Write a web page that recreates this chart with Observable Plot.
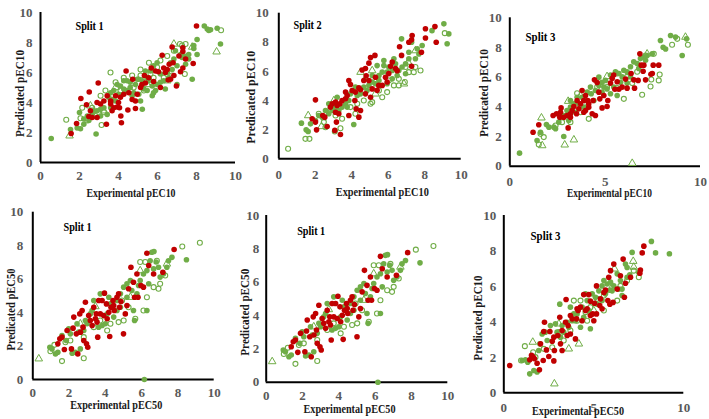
<!DOCTYPE html>
<html><head><meta charset="utf-8">
<script src="https://cdn.jsdelivr.net/npm/d3@7"></script>
<script src="https://cdn.jsdelivr.net/npm/@observablehq/plot@0.6"></script>
<style>
body{margin:0;background:#fff}
#fig{position:relative;width:709px;height:419px;overflow:hidden;background:#fff}
#fig svg{position:absolute;overflow:visible}
</style>
</head><body><div id="fig"></div>
<script>
// ---- tick values ----
const ticksFine = [0, 2, 4, 6, 8, 10];
const ticksCoarse = [0, 5, 10];

// ---- text ----
const titles = ["Split 1", "Split 2", "Split 3", "Split 1", "Split 1", "Split 3"];
const xLabels = ["Experimental pEC10", "Experimental pEC10", "Experimental pEC10", "Experimental pEC50", "Experimental pEC50", "Experimental pEC50"];
const yLabels = ["Predicated pEC10", "Predicated pEC10", "Predicated pEC10", "Predicated pEC50", "Predicated pEC50", "Predicated pEC10"];

// ---- panel 1 (pEC10, split 1) ----
const p1Red = [[8.0,9.1],[1.57,1.93],[1.85,2.6],[2.07,4.27],[2.5,4.7],[2.96,5.3],[2.36,3.85],[2.56,3.45],[2.48,3.07],[2.65,3.0],[2.9,3.0],[2.9,4.0],[3.08,3.9],[3.25,4.1],[3.42,4.45],[3.38,2.55],[3.6,4.1],[3.67,3.45],[3.85,4.45],[3.93,3.7],[3.76,3.65],[4.0,4.0],[4.12,3.1],[4.15,2.65],[4.1,4.35],[4.27,4.55],[4.39,6.1],[4.48,3.5],[4.53,4.65],[4.7,4.2],[4.73,5.55],[4.87,3.6],[4.96,4.55],[5.13,5.0],[5.2,5.2],[5.33,5.8],[5.38,5.3],[5.55,5.65],[5.8,5.4],[5.9,6.1],[6.05,6.05],[6.15,5.0],[6.24,7.15],[6.32,6.3],[6.4,6.0],[6.5,6.2],[6.6,6.55],[6.67,5.55],[6.75,7.7],[6.8,6.65],[6.84,5.8],[6.97,5.1],[7.1,7.1],[7.18,6.05],[7.3,7.65],[7.3,7.4],[7.3,6.3],[7.44,6.9],[7.83,6.6],[6.55,5.5],[5.68,6.3],[4.87,4.1],[3.6,3.9],[4.05,3.65]];
const p1Green = [[0.55,1.6],[1.54,2.2],[2.05,2.25],[2.22,2.55],[2.0,3.33],[2.85,1.9],[2.4,3.1],[2.73,3.45],[3.08,3.1],[3.25,3.65],[3.42,3.2],[3.6,4.65],[3.76,4.8],[3.93,5.2],[4.1,5.1],[4.27,4.9],[4.44,5.45],[4.6,5.0],[4.78,4.65],[4.87,5.2],[5.04,5.55],[5.13,4.1],[5.3,4.9],[5.47,5.65],[5.73,4.45],[5.8,4.65],[5.9,4.8],[5.98,5.2],[6.15,5.9],[6.32,5.45],[6.4,4.9],[6.58,5.65],[6.67,6.65],[6.84,6.9],[6.92,7.45],[7.0,5.2],[7.18,7.2],[7.35,7.1],[7.52,7.1],[7.6,7.2],[7.78,5.55],[7.86,7.8],[7.86,7.6],[8.03,8.2],[8.03,7.2],[8.4,9.1],[8.55,8.9],[8.63,8.8],[8.72,8.85],[9.06,8.95],[9.23,7.9],[5.64,6.1],[5.8,6.45],[5.98,6.65],[5.55,5.45],[5.38,6.1],[5.22,5.45],[4.96,5.55],[4.6,5.35],[4.27,5.45],[4.0,4.55],[3.85,4.1],[3.6,3.65],[3.08,3.55],[2.9,3.45],[2.65,3.2],[2.48,2.8],[2.22,2.9],[1.88,2.3],[3.5,4.35],[3.67,4.2],[4.1,4.45],[4.44,4.8],[4.7,4.45],[5.04,4.55],[5.22,3.55],[5.47,4.8],[5.73,5.1],[6.15,5.35],[6.5,6.0],[6.75,6.2],[7.0,6.45],[7.26,7.0],[7.44,6.55],[7.6,6.9]];
const p1Open = [[1.32,2.85],[3.13,2.5],[3.59,6.0],[5.13,6.2],[5.56,6.65],[7.15,7.9],[7.4,5.9],[9.26,8.82],[2.14,3.65],[2.65,3.65],[3.08,4.45],[3.33,4.8],[3.85,5.35],[4.27,5.65],[4.7,5.8],[5.13,5.8],[5.64,5.9],[5.98,6.35],[6.15,6.8],[6.5,7.1],[6.84,7.45],[7.26,7.8],[7.44,7.9],[2.4,2.8],[2.82,3.1],[3.25,3.35],[3.6,4.1],[4.1,4.8],[4.78,5.0],[5.3,4.8],[5.8,5.65],[6.32,5.65],[6.75,5.8],[2.05,2.95]];
const p1Tri = [[1.49,1.78],[9.03,7.38],[6.84,7.9],[6.5,5.45],[5.47,5.2],[3.85,5.0],[3.25,3.45],[2.56,3.78],[7.78,7.7]];

// ---- panel 2 (pEC10, split 2) ----
const p2Red = [[8.56,9.08],[8.04,8.93],[8.63,8.0],[7.82,7.32],[8.04,8.3],[7.31,8.47],[7.28,8.17],[7.13,8.0],[6.62,7.7],[7.28,6.35],[6.73,7.1],[6.22,6.65],[6.4,6.2],[6.49,6.05],[6.13,6.35],[6.03,5.85],[5.85,5.6],[5.94,5.27],[5.67,5.04],[5.27,7.1],[5.03,6.95],[4.94,6.57],[4.75,6.2],[4.57,6.1],[4.79,5.7],[4.66,5.38],[4.94,5.38],[5.3,5.6],[5.48,5.04],[5.39,4.7],[5.12,4.8],[5.03,4.23],[4.75,4.46],[4.48,4.74],[4.39,4.87],[4.2,4.58],[4.02,4.69],[3.84,5.38],[3.93,5.1],[3.75,4.35],[3.66,4.12],[3.47,4.0],[3.35,3.78],[3.2,3.66],[3.11,3.89],[2.93,3.78],[2.83,3.55],[3.11,3.2],[3.29,3.09],[3.16,2.52],[3.07,1.95],[3.38,1.67],[3.84,2.97],[4.39,2.86],[4.24,3.43],[4.48,3.32],[2.52,2.86],[2.41,2.97],[2.01,4.05],[1.83,2.75],[2.01,2.52],[2.07,1.99],[2.65,2.22],[4.17,4.0],[3.66,4.58]];
const p2Green = [[1.24,2.45],[1.5,1.99],[1.61,1.88],[4.11,2.36],[6.73,8.24],[7.28,8.0],[7.86,7.78],[8.4,8.8],[9.05,9.27],[9.32,8.58],[9.23,7.9],[7.68,7.2],[7.49,6.87],[7.13,6.87],[6.95,6.52],[6.76,6.3],[6.58,6.06],[6.4,6.52],[6.22,6.06],[6.03,6.3],[5.94,5.95],[5.76,6.4],[5.67,5.95],[5.49,5.72],[5.49,5.38],[5.3,5.15],[5.12,5.27],[4.94,5.04],[4.84,4.69],[4.66,4.92],[4.48,4.46],[4.3,4.35],[4.11,4.69],[3.93,4.46],[3.84,4.0],[3.66,3.78],[3.47,3.55],[3.29,3.32],[3.11,3.55],[2.93,3.32],[2.74,3.09],[2.56,3.32],[2.38,2.86],[2.19,2.97],[2.01,2.63],[1.74,2.4],[4.2,4.92],[5.94,5.15],[6.22,5.49],[6.49,5.72],[7.13,7.32],[7.59,7.55],[6.31,6.87],[5.76,6.75],[5.12,5.72],[4.75,5.49],[3.75,3.55],[3.2,4.23],[2.74,3.78],[6.95,5.84],[5.39,6.4]];
const p2Open = [[0.51,0.69],[1.46,1.37],[1.68,1.37],[3.38,2.1],[3.07,1.88],[7.77,6.06],[7.4,5.95],[7.13,5.95],[6.91,5.27],[6.58,5.04],[9.1,8.63],[5.67,4.23],[5.94,4.58],[6.03,5.38],[6.58,5.49],[5.03,3.78],[5.12,3.89],[4.66,4.0],[4.3,3.78],[3.93,3.55],[3.47,2.75],[2.83,3.43],[2.47,2.52],[2.19,3.09],[5.49,4.69],[6.31,5.04],[6.95,6.3],[7.49,6.3],[4.2,3.09],[3.11,2.97],[2.56,2.17]];
const p2Tri = [[1.61,2.97],[4.48,5.95],[5.12,6.06],[7.49,7.43],[7.09,6.64],[6.86,5.15],[3.02,4.0],[2.34,2.22],[5.3,4.46]];

// ---- panel 3 (pEC10, split 3) ----
const p3Red = [[1.22,2.29],[1.52,2.79],[2.27,3.42],[2.45,3.53],[2.69,3.93],[2.62,3.3],[2.83,3.3],[3.0,3.42],[3.06,2.58],[3.18,3.3],[3.27,3.75],[3.36,4.02],[3.5,3.53],[3.62,3.87],[3.71,4.2],[3.79,5.1],[3.97,4.76],[3.88,4.43],[3.88,3.64],[4.09,4.43],[4.14,3.98],[4.32,3.53],[4.44,5.82],[4.37,4.43],[4.49,3.42],[4.58,5.64],[4.67,4.99],[4.84,3.93],[4.93,4.76],[5.1,4.02],[5.14,4.43],[5.28,5.6],[5.37,5.93],[5.51,5.19],[5.72,5.19],[5.89,5.33],[6.07,5.87],[6.15,5.26],[6.36,6.25],[6.5,5.82],[6.54,5.26],[6.73,5.78],[6.82,7.57],[6.89,6.81],[6.99,6.4],[7.03,6.81],[7.12,5.82],[7.47,6.25],[7.52,6.81],[7.81,6.81],[7.4,6.2],[4.14,4.2],[3.53,4.43],[2.66,3.64],[3.18,3.53],[3.97,3.75],[4.72,4.54],[5.45,6.14],[5.63,5.69]];
const p3Green = [[0.51,0.88],[2.83,2.0],[1.43,1.73],[1.61,2.29],[1.92,2.81],[2.05,2.63],[2.31,2.63],[2.57,2.97],[2.83,3.42],[3.0,3.75],[3.18,3.98],[3.36,4.2],[3.53,4.65],[3.79,4.65],[3.97,4.43],[4.06,4.99],[4.27,4.88],[4.49,5.1],[4.67,5.44],[4.84,5.66],[5.02,5.78],[5.1,5.21],[5.28,6.14],[5.54,6.36],[5.72,6.25],[5.89,6.02],[5.98,6.47],[6.15,6.36],[6.33,6.7],[6.5,7.03],[6.68,6.92],[6.85,7.25],[7.03,7.35],[7.2,7.46],[7.47,7.57],[7.9,8.47],[8.04,8.02],[8.17,7.9],[8.43,8.81],[8.69,8.7],[9.27,8.58],[9.04,7.46],[5.63,4.76],[5.28,4.88],[6.15,5.6],[6.33,6.02],[4.84,4.99],[4.41,4.43],[3.88,3.98],[3.44,3.64],[3.09,3.08],[2.4,2.52],[3.62,4.2],[3.18,4.43],[4.93,5.33],[5.81,5.66],[6.76,6.58],[7.12,7.14],[4.67,6.0],[5.45,5.33],[4.23,5.33]];
const p3Open = [[1.52,1.46],[1.78,1.96],[1.61,2.18],[4.14,3.19],[3.53,4.92],[5.98,4.54],[6.94,4.81],[7.38,5.37],[7.42,5.84],[7.81,5.78],[7.86,6.18],[8.51,8.18],[8.78,8.58],[9.34,8.18],[5.63,6.25],[6.15,6.02],[6.68,6.36],[7.12,7.46],[7.55,7.57],[5.1,5.33],[4.58,5.33],[4.06,3.98],[3.71,3.64],[3.18,2.97],[2.74,2.97],[2.4,2.74],[5.63,5.26],[6.42,5.6]];
const p3Tri = [[1.66,3.26],[1.7,1.39],[2.88,1.44],[3.36,1.78],[3.06,4.38],[6.42,0.2],[9.21,8.7],[7.2,7.57],[5.1,6.05],[3.71,4.76]];

// ---- panels 4 and 5 (pEC50, split 1; the two panels show the same data) ----
const p4Red = [[1.38,2.13],[1.49,2.43],[1.61,2.53],[1.74,1.79],[1.89,2.93],[2.13,1.83],[2.22,3.07],[2.26,3.73],[2.4,2.73],[2.48,1.53],[2.59,3.92],[2.72,4.12],[2.77,3.13],[2.81,2.33],[2.9,4.62],[2.96,2.13],[3.03,1.93],[3.08,3.82],[3.17,3.53],[3.27,3.23],[3.36,4.32],[3.45,3.63],[3.54,3.43],[3.58,2.53],[3.63,4.72],[3.72,3.92],[3.82,4.72],[3.91,3.82],[3.95,5.16],[4.06,4.52],[4.1,3.63],[4.19,4.02],[4.24,2.57],[4.31,4.32],[4.42,4.72],[4.49,4.12],[4.64,4.92],[4.73,5.12],[4.86,4.66],[5.0,2.73],[5.1,3.92],[5.19,4.42],[5.28,5.42],[5.41,6.71],[5.55,5.81],[5.61,4.92],[5.74,6.31],[5.8,4.92],[5.96,5.62],[6.1,5.52],[6.29,7.55],[6.39,6.81],[6.66,6.31],[7.17,6.41],[7.79,7.77],[4.78,4.32],[4.46,4.42],[3.5,3.92],[2.63,2.83]];
const p4Green = [[0.94,1.93],[1.06,1.83],[1.25,1.53],[1.38,1.63],[1.85,2.33],[2.07,2.73],[2.17,1.57],[2.35,1.63],[2.62,1.83],[2.53,2.83],[2.81,2.93],[2.99,3.33],[3.17,3.92],[3.36,4.72],[3.63,3.13],[3.82,3.23],[4.0,3.33],[4.1,3.92],[4.28,4.52],[4.46,3.73],[4.64,4.72],[4.83,5.12],[5.01,5.52],[5.19,5.72],[5.38,5.92],[5.55,4.12],[5.61,3.53],[5.74,5.12],[5.92,5.92],[6.1,6.31],[6.29,6.51],[6.39,5.72],[6.29,4.12],[6.56,7.61],[6.68,7.65],[6.8,7.02],[6.93,6.71],[7.02,6.12],[7.2,6.31],[7.39,6.71],[7.48,7.1],[7.67,7.3],[8.47,7.16],[6.15,0.0],[3.72,5.12],[4.64,4.12],[2.9,3.53],[2.44,3.33],[1.98,3.03],[1.61,2.63],[4.83,4.32],[5.19,4.92],[5.46,5.32],[5.83,5.62],[6.66,6.61],[6.47,7.1],[4.19,4.92],[3.27,4.12]];
const p4Open = [[0.97,1.69],[1.19,2.07],[1.61,1.1],[2.81,1.27],[8.24,7.95],[9.21,8.17],[5.92,7.02],[6.2,7.02],[6.93,5.42],[6.84,7.1],[6.1,4.12],[5.65,3.63],[5.01,3.53],[4.73,3.43],[4.1,2.93],[2.81,2.53],[2.07,2.33],[1.8,2.23],[3.36,3.13],[4.28,3.33],[5.28,4.32],[6.29,4.92],[6.66,5.52],[7.3,6.22],[7.02,5.72],[3.72,3.53],[4.92,4.72]];
const p4Tri = [[0.33,1.24],[5.92,6.51],[3.45,4.36],[2.62,3.33],[5.38,4.92],[7.39,6.91]];

// ---- panel 6 (pEC50, split 3) ----
const p6Red = [[0.33,1.54],[1.44,1.86],[1.54,2.11],[1.63,2.01],[1.7,1.92],[1.85,1.67],[1.98,1.3],[2.04,2.76],[2.19,1.82],[2.26,3.98],[2.22,3.46],[2.37,2.42],[2.56,3.46],[2.5,2.05],[2.69,2.91],[2.78,1.8],[2.81,2.39],[3.0,3.23],[3.11,4.26],[3.15,2.76],[3.24,3.51],[3.24,2.39],[3.43,3.98],[3.46,5.26],[3.52,3.23],[3.57,3.79],[3.7,4.36],[3.8,4.17],[3.98,3.04],[4.04,4.17],[4.07,4.74],[4.13,4.64],[4.26,4.83],[4.35,4.06],[4.44,5.54],[4.54,4.64],[4.63,4.74],[4.72,5.54],[4.81,5.17],[4.81,4.36],[4.94,4.45],[5.0,4.06],[5.04,5.05],[5.15,6.03],[5.15,4.45],[5.37,5.3],[5.46,4.74],[5.56,5.66],[5.65,5.79],[5.78,5.2],[5.83,6.52],[5.89,5.0],[5.93,6.89],[6.07,5.1],[6.11,7.26],[6.3,5.85],[6.48,6.6],[6.63,7.54],[6.7,5.39],[6.76,6.18],[7.59,6.93],[7.69,7.89],[7.78,8.27],[7.56,6.74],[7.04,6.52],[2.78,3.14],[3.7,3.32],[5.33,4.92]];
const p6Green = [[1.44,1.07],[1.02,1.82],[1.2,1.86],[1.33,1.73],[1.67,1.26],[1.85,1.17],[1.94,2.39],[2.0,2.76],[2.59,3.79],[2.41,2.95],[2.87,3.89],[3.11,5.0],[3.33,3.42],[3.61,3.7],[3.8,4.06],[4.07,4.45],[4.26,3.7],[4.44,4.26],[4.63,5.2],[4.81,3.61],[4.91,5.58],[5.09,5.39],[5.28,5.75],[5.46,6.03],[5.56,6.33],[5.74,6.14],[5.93,6.24],[6.11,6.03],[6.3,6.71],[6.48,6.33],[6.57,5.49],[6.76,7.26],[6.85,7.07],[7.0,6.65],[7.13,7.92],[7.5,6.78],[8.2,8.54],[8.43,7.89],[9.2,7.84],[3.15,3.14],[3.52,3.98],[3.89,4.45],[4.35,4.83],[4.54,5.58],[5.19,5.0],[5.65,5.58],[6.02,5.75],[6.39,5.85],[2.13,3.32],[2.31,3.42],[2.96,3.42],[3.24,3.79],[3.98,4.06],[4.72,4.64],[5.46,5.2],[5.89,5.79],[6.85,6.52],[6.57,5.85],[3.7,4.83]];
const p6Open = [[0.96,1.82],[1.17,2.63],[1.63,2.29],[1.76,2.01],[2.22,2.48],[2.69,2.57],[3.33,2.95],[3.7,3.51],[4.07,4.06],[4.54,4.55],[4.81,4.83],[5.19,5.3],[5.56,5.49],[6.02,5.94],[6.48,6.03],[6.85,6.33],[7.5,6.52],[4.26,5.2],[4.63,4.06],[3.89,5.2],[3.06,3.42],[5.56,4.64],[6.3,5.2],[7.22,6.89]];
const p6Tri = [[1.61,2.86],[2.81,0.51],[3.61,2.48],[4.17,2.76],[7.19,7.42],[7.22,7.09],[6.15,6.99],[3.06,3.89],[5.0,4.64]];

// ---- layout (pixel boxes of each sub-chart) ----
const layout = [
  {L:0,   T:0,   W:245, H:200, x0:40,    x10:235,   yt:12,    yb:162,   xPad:8,  yPad:8,   xl:[130.5,192.7,89], yl:[19,93,87],     ti:[75,25,28]},
  {L:235, T:0,   W:240, H:200, x0:278.3, x10:460.7, yt:12.7,  yb:158.3, xPad:11, yPad:10,  xl:[381.8,191.7,93], yl:[250,96.7,93], ti:[293,24,28]},
  {L:470, T:0,   W:239, H:200, x0:509.3, x10:700,   yt:17.3,  yb:165.7, xPad:11, yPad:8,   xl:[609,192.7,85], yl:[483.3,92.5,88], ti:[525,36,30]},
  {L:0,   T:200, W:235, H:219, x0:32.3,  x10:213.7, yt:211.7, yb:379,   xPad:8.5, yPad:9.5, xl:[115.8,404,92], yl:[10,309,82],   ti:[63,226.7,28]},
  {L:235, T:200, W:235, H:219, x0:265.7, x10:447.3, yt:215,   yb:381.7, xPad:8.5, yPad:7,  xl:[349,408.5,92], yl:[244.3,311.7,87], ti:[296.7,230,28]},
  {L:470, T:200, W:239, H:219, x0:503.3, x10:683.3, yt:215,   yb:392.3, xPad:10, yPad:7.5, xl:[577.5,410.7,92], yl:[477.3,317.5,85], ti:[530,235,30]}
];

const series = [
  [p1Red, p1Green, p1Open, p1Tri],
  [p2Red, p2Green, p2Open, p2Tri],
  [p3Red, p3Green, p3Open, p3Tri],
  [p4Red, p4Green, p4Open, p4Tri],
  [p4Red, p4Green, p4Open, p4Tri],
  [p6Red, p6Green, p6Open, p6Tri]
];
const xTickSets = [ticksFine, ticksFine, ticksCoarse, ticksFine, ticksFine, ticksCoarse];

const RED = "#C00000", GREEN = "#70AD47";
const FONT = "'Liberation Serif', 'Times New Roman', serif";
const fig = document.getElementById("fig");

layout.forEach((b, i) => {
  const [red, green, open, tri] = series[i];
  const fx = (b.x0 + b.x10) / 2, fy = (b.yt + b.yb) / 2;
  const px = d => d[0], py = d => d[1];
  const svg = Plot.plot({
    width: b.W, height: b.H,
    marginLeft: b.x0 - b.L, marginRight: b.L + b.W - b.x10,
    marginTop: b.yt - b.T, marginBottom: b.T + b.H - b.yb,
    style: {fontFamily: FONT, fontSize: "13px", fontWeight: "bold", color: "#595959", background: "transparent", overflow: "visible"},
    x: {domain: [0, 10], ticks: xTickSets[i], tickSize: 0, tickPadding: b.xPad, label: null},
    y: {domain: [0, 10], ticks: ticksFine, tickSize: 0, tickPadding: b.yPad, label: null},
    marks: [
      Plot.ruleY([0], {stroke: "black", strokeWidth: 2}),
      Plot.ruleX([0], {stroke: "black", strokeWidth: 2}),
      Plot.dot(green, {x: px, y: py, r: 2.8, fill: GREEN}),
      Plot.dot(open, {x: px, y: py, r: 2.5, stroke: GREEN, strokeWidth: 1.1, fill: "none"}),
      Plot.dot(tri, {x: px, y: py, r: 2.8, symbol: "triangle", stroke: GREEN, strokeWidth: 1, fill: "none"}),
      Plot.dot(red, {x: px, y: py, r: 2.8, fill: RED}),
      Plot.text([xLabels[i]], {text: d => d, frameAnchor: "bottom", lineAnchor: "middle", textAnchor: "middle",
        dx: b.xl[0] - fx, dy: b.xl[1] - b.yb, fill: "#1a1a1a", fontSize: 12.5, fontWeight: "bold"}),
      Plot.text([yLabels[i]], {text: d => d, frameAnchor: "left", lineAnchor: "middle", textAnchor: "middle", rotate: -90,
        dx: b.yl[0] - b.x0, dy: b.yl[1] - fy, fill: "#1a1a1a", fontSize: 12.5, fontWeight: "bold"}),
      Plot.text([titles[i]], {text: d => d, frameAnchor: "top-left", lineAnchor: "middle", textAnchor: "start",
        dx: b.ti[0] - b.x0, dy: b.ti[1] - b.yt, fill: "black", fontSize: 12.5, fontWeight: "bold"})
    ]
  });
  svg.style.left = b.L + "px";
  svg.style.top = b.T + "px";
  fig.appendChild(svg);
  // condense the serif labels to the narrow widths seen in the figure
  const widths = {[xLabels[i]]: b.xl[2], [yLabels[i]]: b.yl[2], [titles[i]]: b.ti[2]};
  d3.select(svg).selectAll("text").each(function() {
    const t = this.textContent;
    if (widths[t] !== undefined && this.childElementCount === 0) {
      this.setAttribute("textLength", widths[t]);
      this.setAttribute("lengthAdjust", "spacingAndGlyphs");
    }
  });
});
</script>
</body></html>
